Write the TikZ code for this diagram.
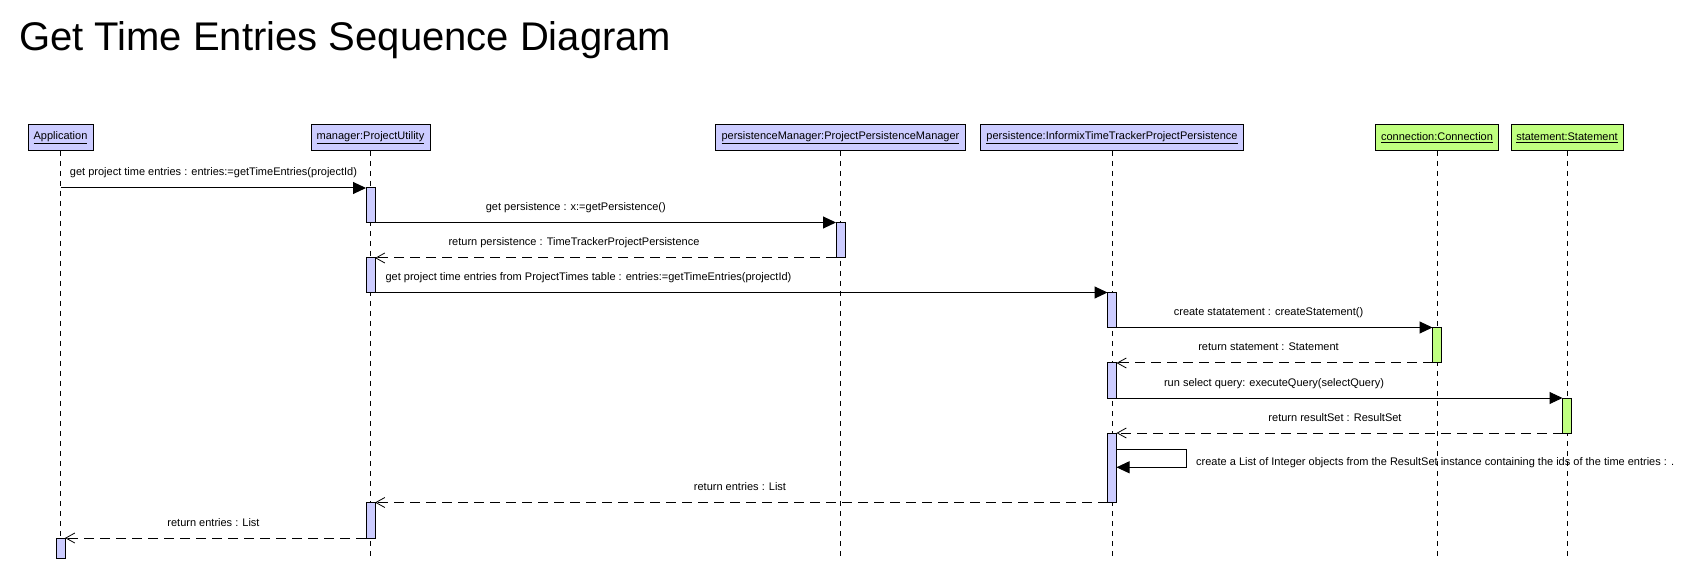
\documentclass[tikz,border=0pt]{standalone}
\usepackage{fontspec}
\setmainfont{Liberation Sans}
\usetikzlibrary{arrows.meta}
\definecolor{objblue}{RGB}{204,204,255}
\definecolor{objgreen}{RGB}{192,255,128}

\begin{document}
\begin{tikzpicture}[x=1pt,y=-1pt,
  every node/.style={font=\fontsize{11}{13}\selectfont},
  objbox/.style={draw, line width=1pt, minimum height=26pt, inner sep=0pt, outer sep=0pt},
  bluebox/.style={objbox, fill=objblue},
  greenbox/.style={objbox, fill=objgreen},
  lifeline/.style={line width=1pt, dash pattern=on 5pt off 5pt},
  actbar/.style={draw, line width=1pt, minimum width=9pt, inner sep=0pt, outer sep=0pt, anchor=north},
  blueact/.style={actbar, fill=objblue},
  greenact/.style={actbar, fill=objgreen},
  sync/.style={line width=1pt, -{Triangle[length=13pt,width=12pt]}},
  reply/.style={line width=1pt, dash pattern=on 10pt off 6pt,
    -{Straight Barb[length=9pt,width=10pt,line width=0.8pt]}},
  lbl/.style={anchor=base, inner sep=0pt},
]
\useasboundingbox (0,0) rectangle (1682,569);

% title
\node[anchor=base west, inner sep=0pt, font=\fontsize{40}{48}\selectfont] (title) at (19,51)
  {Get Time Entries Sequence Diagram};

% participants
\node[bluebox, minimum width=65pt]  (app)  at (60.5,138)  {\underline{Application}};
\node[bluebox, minimum width=119pt] (mgr)  at (370.5,138) {\underline{manager:ProjectUtility}};
\node[bluebox, minimum width=250pt] (pm)   at (840.5,138) {\underline{persistenceManager:ProjectPersistenceManager}};
\node[bluebox, minimum width=263pt] (pers) at (1112,138)  {\underline{persistence:InformixTimeTrackerProjectPersistence}};
\node[greenbox, minimum width=123pt] (conn) at (1437,138) {\underline{connection:Connection}};
\node[greenbox, minimum width=112pt] (stmt) at (1567,138) {\underline{statement:Statement}};

% lifelines
\coordinate (bottom) at (0,557);
\foreach \p in {app,mgr,pm,pers,conn,stmt}
  \draw[lifeline] (\p.south) -- (\p.south |- bottom);

% activation bars
\node[blueact, minimum height=34.5pt] (m1) at (370.5,188) {};
\node[blueact, minimum height=35.5pt] (pm1) at (840.5,222.5) {};
\node[blueact, minimum height=34.5pt] (m2) at (370.5,258) {};
\node[blueact, minimum height=35pt] (p1) at (1112,292.5) {};
\node[greenact, minimum height=35.5pt] (c1) at (1437,327.5) {};
\node[blueact, minimum height=35pt] (p2) at (1112,363) {};
\node[greenact, minimum height=35pt] (s1) at (1567,398) {};
\node[blueact, minimum height=69.5pt] (p3) at (1112,433) {};
\node[blueact, minimum height=35.5pt] (m3) at (370.5,502.5) {};
\node[blueact, minimum height=20pt] (a1) at (60.5,538) {};

% messages
\draw[sync] (m1.north west -| app.south) -- (m1.north west);
\draw[sync] (m1.south east) -- (pm1.north west);
\draw[reply] (pm1.south west) -- (m2.north east);
\draw[sync] (m2.south east) -- (p1.north west);
\draw[sync] (p1.south east) -- (c1.north west);
\draw[reply] (c1.south west) -- (p2.north east);
\draw[sync] (p2.south east) -- (s1.north west);
\draw[reply] (s1.south west) -- (p3.north east);
\coordinate (loopA) at (1186.5,449.3);
\coordinate (loopB) at (1186.5,467.3);
\draw[sync] (p3.east |- loopA) -- (loopA) -- (loopB) -- (p3.east |- loopB);
\draw[reply] (p3.south west) -- (m3.north east);
\draw[reply] (m3.south west) -- (a1.north east);

% message labels
\node[lbl] (t1) at (213.5,176) {get project time entries : entries:=getTimeEntries(projectId)};
\node[lbl] (t2) at (575.8,210.5) {get persistence : x:=getPersistence()};
\node[lbl] (t3) at (574,246) {return persistence : TimeTrackerProjectPersistence};
\node[lbl] (t4) at (588.5,280.5) {get project time entries from ProjectTimes table : entries:=getTimeEntries(projectId)};
\node[lbl] (t5) at (1268.5,315.5) {create statatement : createStatement()};
\node[lbl] (t6) at (1268.5,351) {return statement : Statement};
\node[lbl] (t7) at (1274,386) {run select query: executeQuery(selectQuery)};
\node[lbl] (t8) at (1335,421) {return resultSet : ResultSet};
\node[lbl, anchor=base west] (t9) at (1196,465) {create a List of Integer objects from the ResultSet instance containing the ids of the time entries : .};
\node[lbl] (t10) at (740,490.5) {return entries : List};
\node[lbl] (t11) at (213.5,526) {return entries : List};
\end{tikzpicture}
\end{document}
